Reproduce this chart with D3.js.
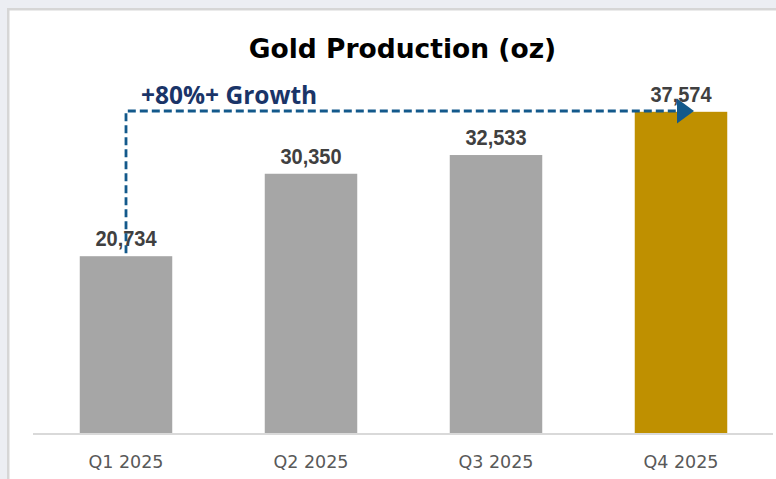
<!DOCTYPE html>
<html><head><meta charset="utf-8">
<script src="https://cdn.jsdelivr.net/npm/d3@7"></script>
<style>html,body{margin:0;padding:0;background:#eceef3;}svg{display:block;}</style>
</head><body>
<svg id="chart" width="776" height="479"></svg>
<script>
const categories = ["Q1 2025", "Q2 2025", "Q3 2025", "Q4 2025"];
const production = [20734, 30350, 32533, 37574];
const barColors = ["#a6a6a6", "#a6a6a6", "#a6a6a6", "#bf9000"];
const titleText = "Gold Production (oz)";
const growthText = "+80%+ Growth";

const svg = d3.select("#chart");
// panel
svg.append("rect").attr("x", 7).attr("y", 8).attr("width", 780).attr("height", 480).attr("fill", "#d6d6d6");
svg.append("rect").attr("x", 9.5).attr("y", 10.5).attr("width", 780).attr("height", 480).attr("fill", "#ffffff");

const x = d3.scaleBand().domain(categories).range([33.5, 773.5]).paddingInner(0.5).paddingOuter(0.25);
const y = d3.scaleLinear().domain([0, 40000]).range([434, 91]);

svg.append("text").attr("x", 402.5).attr("y", 58).attr("text-anchor", "middle")
  .attr("font-family", "'DejaVu Sans', sans-serif").attr("font-weight", "bold")
  .attr("font-size", 26.5).attr("fill", "#000").text(titleText);

svg.selectAll("rect.bar").data(production).join("rect").attr("class", "bar")
  .attr("x", (d, i) => x(categories[i])).attr("width", x.bandwidth())
  .attr("y", d => y(d)).attr("height", d => y(0) - y(d))
  .attr("fill", (d, i) => barColors[i]);

// axis
const xAxis = svg.append("g").attr("transform", `translate(0,${y(0)})`)
  .call(d3.axisBottom(x).tickSize(0).tickPadding(22));
xAxis.select(".domain").attr("stroke", "#d9d9d9").attr("stroke-width", 2)
  .attr("d", `M33,0H773`);
xAxis.selectAll("text").attr("font-family", "'DejaVu Sans', sans-serif")
  .attr("font-size", 17.5).attr("fill", "#595959");

// value labels
svg.selectAll("text.val").data(production).join("text").attr("class", "val")
  .attr("transform", (d, i) => `translate(${x(categories[i]) + x.bandwidth() / 2},${y(d) - 10}) scale(1,1.12)`)
  .attr("text-anchor", "middle")
  .attr("font-family", "'Liberation Sans', Arial, sans-serif").attr("font-weight", "bold")
  .attr("font-size", 20).attr("fill", "#404040")
  .text(d => d3.format(",")(d));

// growth arrow
const xs = x(categories[0]) + x.bandwidth() / 2;
const xc = x(categories[3]) + x.bandwidth() / 2;
const yTop = 111;
const arrowColor = "#13598b";
svg.append("path")
  .attr("d", `M${xs},${y(production[0]) - 3}V${yTop}H${xc - 3}`)
  .attr("fill", "none").attr("stroke", arrowColor).attr("stroke-width", 2.8)
  .attr("stroke-dasharray", "8,4");
svg.append("path")
  .attr("d", `M${xc - 4},${yTop - 12.5}L${xc + 13},${yTop}L${xc - 4},${yTop + 12.5}Z`)
  .attr("fill", arrowColor);

svg.append("text").attr("x", 141).attr("y", 104)
  .attr("font-family", "'Open Sans', sans-serif").attr("font-weight", "bold")
  .attr("font-size", 24.5).attr("fill", "#1a3468").text(growthText);
</script>
</body></html>
